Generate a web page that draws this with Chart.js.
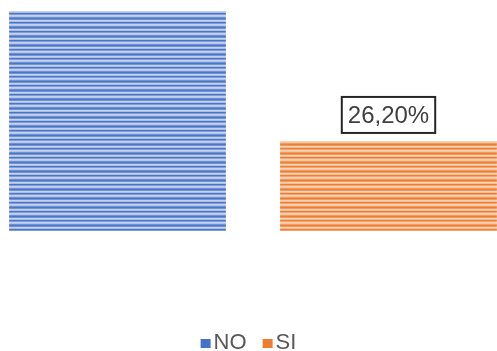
<!DOCTYPE html>
<html>
<head>
<meta charset="utf-8">
<script src="https://cdn.jsdelivr.net/npm/chart.js@4"></script>
<style>
  html, body { margin: 0; padding: 0; background: #fff; overflow: hidden; }
  body { width: 497px; height: 351px; position: relative; }
  #respuestas { position: absolute; left: -18px; top: 0; }
</style>
</head>
<body>
<canvas id="respuestas" width="542" height="351"></canvas>
<script>
const categorias = ['NO', 'SI'];
const porcentajes = [73.8, 26.2];
const ejeMaximo = 64;

// franjas horizontales de cada barra (de arriba abajo, se repiten)
const franjasAzul = ['#4a76c6', '#7393d3', '#c4d2ee', '#a9bde6', '#4a76c6', '#7f9cd7', '#c4d2ee', '#b3c5ea', '#6f90d2'];
const franjasNaranja = ['#ed7d31', '#f09b60', '#f9d3b8', '#f6bd95', '#ed7d31', '#f1a470', '#f9d3b8', '#f7c4a0', '#f09a5e'];
const coloresLeyenda = ['#4472c4', '#ed7d31'];

function rayado(colores) {
    const c = document.createElement('canvas');
    c.width = 4;
    c.height = colores.length;
    const g = c.getContext('2d');
    colores.forEach((col, i) => {
        g.fillStyle = col;
        g.fillRect(0, i, 4, 1);
    });
    return g.createPattern(c, 'repeat');
}

const formato = v => v.toFixed(2).replace('.', ',') + '%';

const etiquetas = {
    id: 'etiquetas',
    afterDatasetsDraw(chart) {
        const ctx = chart.ctx;
        const meta = chart.getDatasetMeta(0);
        ctx.save();
        ctx.font = '24px "Liberation Sans", Arial, sans-serif';
        ctx.textAlign = 'center';
        ctx.textBaseline = 'middle';
        meta.data.forEach((bar, i) => {
            const txt = formato(porcentajes[i]);
            const w = ctx.measureText(txt).width + 12;
            const h = 36;
            const top = bar.y - 8 - h;
            ctx.fillStyle = '#fff';
            ctx.fillRect(bar.x - w / 2, top, w, h);
            ctx.strokeStyle = '#262626';
            ctx.lineWidth = 2;
            ctx.strokeRect(bar.x - w / 2, top, w, h);
            ctx.fillStyle = '#404040';
            ctx.fillText(txt, bar.x, top + h / 2 + 1);
        });
        ctx.restore();
    }
};

const leyenda = {
    id: 'leyenda',
    afterDraw(chart) {
        const ctx = chart.ctx;
        ctx.save();
        ctx.font = '22px "Liberation Sans", Arial, sans-serif';
        ctx.textBaseline = 'alphabetic';
        const caja = 10, hueco = 3, sep = 16;
        const anchos = categorias.map(t => caja + hueco + ctx.measureText(t).width);
        const total = anchos.reduce((a, b) => a + b, 0) + sep * (categorias.length - 1);
        let x = 266.5 - total / 2;
        const base = 349;
        categorias.forEach((t, i) => {
            ctx.fillStyle = coloresLeyenda[i];
            ctx.fillRect(x, base - 10, caja, 9);
            ctx.fillStyle = '#595959';
            ctx.fillText(t, x + caja + hueco, base);
            x += anchos[i] + sep;
        });
        ctx.restore();
    }
};

new Chart(document.getElementById('respuestas'), {
    type: 'bar',
    data: {
        labels: categorias,
        datasets: [{
            data: porcentajes,
            backgroundColor: [rayado(franjasAzul), rayado(franjasNaranja)],
            borderWidth: 0,
            categoryPercentage: 1,
            barPercentage: 0.8,
            clip: 0
        }]
    },
    options: {
        responsive: false,
        animation: false,
        devicePixelRatio: 1,
        layout: { padding: { top: 11, bottom: 120, left: 0, right: 0 } },
        plugins: {
            legend: { display: false },
            tooltip: { enabled: false }
        },
        scales: {
            x: { display: false },
            y: { display: false, min: 0, max: ejeMaximo }
        }
    },
    plugins: [etiquetas, leyenda]
});
</script>
</body>
</html>
